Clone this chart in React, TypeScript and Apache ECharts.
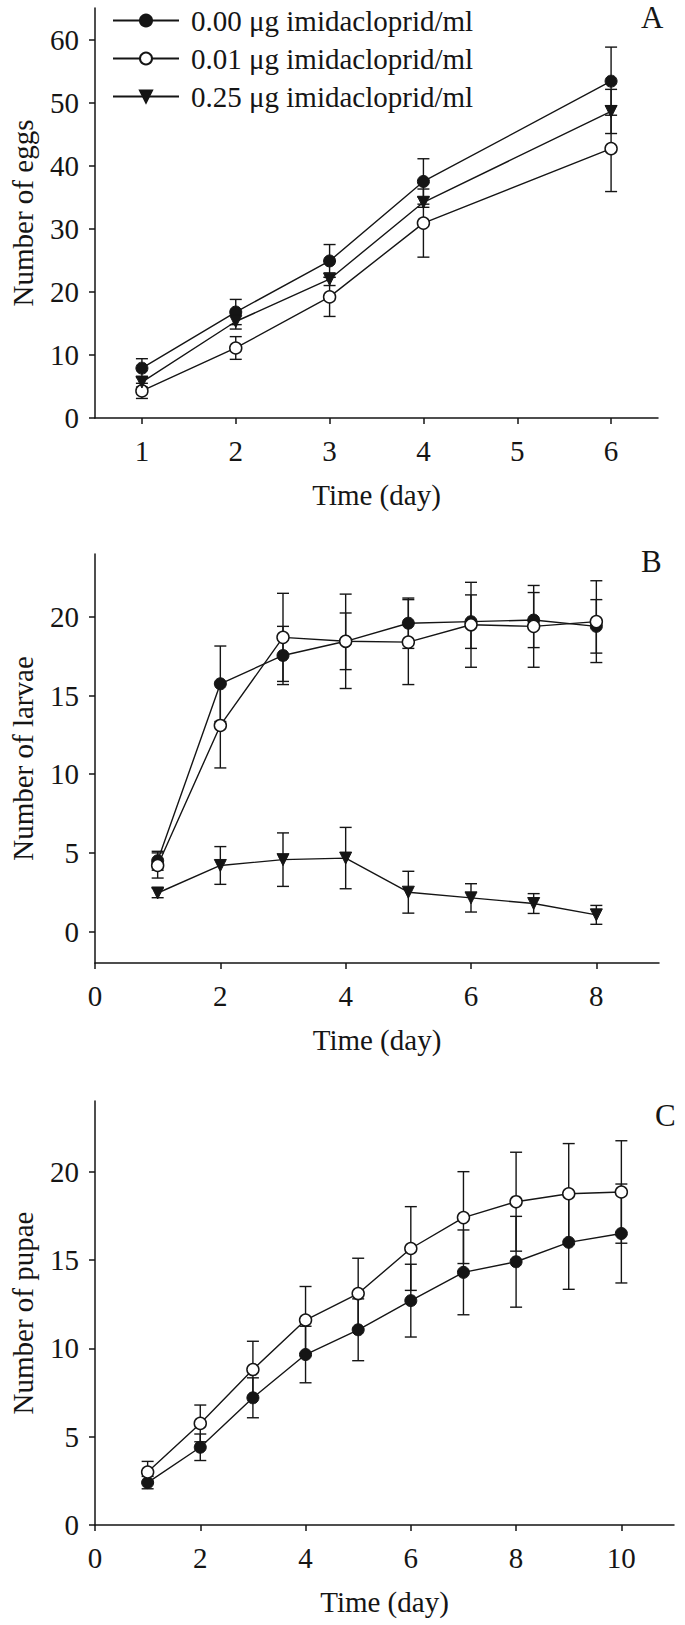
import React, { useEffect, useRef } from 'react';
import * as echarts from 'echarts';

const legendNames = ['0.00 μg imidacloprid/ml', '0.01 μg imidacloprid/ml', '0.25 μg imidacloprid/ml'];

// Panel A – eggs
const aCategories = ['1', '2', '3', '4', '5', '6'];
const aDays = ['1', '2', '3', '4', '6'];
const aCtrl = [7.9, 16.8, 24.9, 37.5, 53.4];
const aCtrlErr = [1.5, 2.0, 2.6, 3.6, 5.4];
const aLow = [4.3, 11.1, 19.2, 30.9, 42.7];
const aLowErr = [1.2, 1.8, 3.1, 5.4, 6.8];
const aHigh = [5.7, 15.3, 22.0, 34.2, 48.6];
const aHighErr = [0.8, 1.2, 1.0, 0.8, 3.5];
const aYTicks = [0, 10, 20, 30, 40, 50, 60];

// Panel B – larvae
const bDays = [1, 2, 3, 4, 5, 6, 7, 8];
const bCtrl = [4.5, 15.75, 17.55, 18.45, 19.6, 19.7, 19.8, 19.4];
const bCtrlErr = [0.6, 2.4, 1.85, 1.8, 1.6, 1.7, 1.75, 1.7];
const bLow = [4.2, 13.1, 18.7, 18.45, 18.4, 19.5, 19.4, 19.7];
const bLowErr = [0.8, 2.7, 2.8, 3.0, 2.7, 2.7, 2.6, 2.6];
const bHigh = [2.45, 4.2, 4.57, 4.67, 2.5, 2.14, 1.78, 1.06];
const bHighErr = [0.3, 1.2, 1.7, 1.95, 1.33, 0.9, 0.63, 0.6];
const bXTicks = [0, 2, 4, 6, 8];
const bYTicks = [0, 5, 10, 15, 20];

// Panel C – pupae
const cDays = [1, 2, 3, 4, 5, 6, 7, 8, 9, 10];
const cCtrl = [2.4, 4.4, 7.2, 9.65, 11.05, 12.7, 14.3, 14.9, 16.0, 16.5];
const cCtrlErr = [0.35, 0.75, 1.13, 1.6, 1.75, 2.06, 2.4, 2.57, 2.66, 2.8];
const cLow = [3.0, 5.75, 8.8, 11.6, 13.1, 15.65, 17.4, 18.3, 18.75, 18.85];
const cLowErr = [0.6, 1.04, 1.6, 1.9, 2.0, 2.37, 2.6, 2.8, 2.84, 2.9];
const cXTicks = [0, 2, 4, 6, 8, 10];
const cYTicks = [0, 5, 10, 15, 20];

const INK = '#151515';
const FONT = 'Liberation Serif';
const FS = 29;

const markerStyles = [
  { symbol: 'circle', symbolRotate: 0, itemStyle: { color: INK, borderColor: INK, borderWidth: 1 } },
  { symbol: 'circle', symbolRotate: 0, itemStyle: { color: '#ffffff', borderColor: INK, borderWidth: 1.5 } },
  { symbol: 'triangle', symbolRotate: 180, itemStyle: { color: INK, borderColor: INK, borderWidth: 1 } },
];

function lineSeries(idx: number, panel: number, xs: any[], ys: number[]) {
  const m = markerStyles[idx];
  return {
    type: 'line',
    name: legendNames[idx],
    xAxisIndex: panel,
    yAxisIndex: panel,
    data: xs.map((x, i) => [x, ys[i]]),
    symbol: m.symbol,
    symbolRotate: m.symbolRotate,
    symbolSize: 12,
    showAllSymbol: true,
    itemStyle: m.itemStyle,
    lineStyle: { color: INK, width: 1.4 },
    z: 3,
    silent: true,
  };
}

function errSeries(tag: string, panel: number, xs: any[], ys: number[], errs: number[]) {
  return {
    type: 'custom',
    name: tag,
    xAxisIndex: panel,
    yAxisIndex: panel,
    z: 2,
    silent: true,
    data: xs.map((x, i) => [x, ys[i] - errs[i], ys[i] + errs[i]]),
    renderItem: (_params: any, api: any) => {
      const x = api.value(0);
      const lo = api.coord([x, api.value(1)]);
      const hi = api.coord([x, api.value(2)]);
      const hw = 6;
      const style = { stroke: INK, lineWidth: 1.4 };
      return {
        type: 'group',
        children: [
          { type: 'line', shape: { x1: lo[0], y1: lo[1], x2: hi[0], y2: hi[1] }, style },
          { type: 'line', shape: { x1: lo[0] - hw, y1: lo[1], x2: lo[0] + hw, y2: lo[1] }, style },
          { type: 'line', shape: { x1: hi[0] - hw, y1: hi[1], x2: hi[0] + hw, y2: hi[1] }, style },
        ],
      };
    },
  };
}

const axisLineStyle = { show: true, onZero: false, lineStyle: { color: INK, width: 1.5 } };
const tickStyle = { show: true, inside: false, length: 6, lineStyle: { color: INK, width: 1.5 } };
const labelStyle = { color: INK, fontSize: FS, fontFamily: FONT };
const nameStyle = { color: INK, fontSize: FS, fontFamily: FONT };

function valueX(grid: number, min: number, max: number, ticks: number[]) {
  return {
    type: 'value',
    gridIndex: grid,
    min,
    max,
    axisLine: axisLineStyle,
    axisTick: { ...tickStyle, customValues: ticks },
    axisLabel: { ...labelStyle, margin: 18, customValues: ticks },
    splitLine: { show: false },
    name: 'Time (day)',
    nameLocation: 'middle',
    nameGap: 62,
    nameTextStyle: nameStyle,
  };
}

function valueY(grid: number, min: number, max: number, ticks: number[], name: string) {
  return {
    type: 'value',
    gridIndex: grid,
    min,
    max,
    axisLine: axisLineStyle,
    axisTick: { ...tickStyle, customValues: ticks },
    axisLabel: { ...labelStyle, margin: 16, customValues: ticks },
    splitLine: { show: false },
    name,
    nameLocation: 'middle',
    nameGap: 58,
    nameTextStyle: nameStyle,
  };
}

export default function App() {
  const ref = useRef<HTMLDivElement>(null);
  useEffect(() => {
    if (!ref.current) return;
    const chart = echarts.init(ref.current, undefined, { renderer: 'svg' });
    const option: any = {
      animation: false,
      backgroundColor: '#ffffff',
      textStyle: { fontFamily: FONT },
      grid: [
        { left: 89, top: 8, width: 569, height: 410 },
        { left: 89, top: 554, width: 570, height: 409 },
        { left: 91, top: 1101, width: 583, height: 424 },
      ],
      legend: {
        data: legendNames,
        orient: 'vertical',
        left: 107,
        top: 1,
        itemWidth: 66,
        itemHeight: 15,
        itemGap: 9,
        selectedMode: false,
        textStyle: { color: INK, fontSize: FS, fontFamily: FONT, lineHeight: 29, padding: [0, 0, 0, 7] },
      },
      xAxis: [
        {
          type: 'category',
          gridIndex: 0,
          data: aCategories,
          boundaryGap: true,
          axisLine: axisLineStyle,
          axisTick: { ...tickStyle, alignWithLabel: true, interval: 0 },
          axisLabel: { ...labelStyle, margin: 18, interval: 0 },
          splitLine: { show: false },
          name: 'Time (day)',
          nameLocation: 'middle',
          nameGap: 62,
          nameTextStyle: nameStyle,
        },
        valueX(1, 0, 9, bXTicks),
        valueX(2, 0, 11, cXTicks),
      ],
      yAxis: [
        valueY(0, 0, 65, aYTicks, 'Number of eggs'),
        valueY(1, -2, 24, bYTicks, 'Number of larvae'),
        valueY(2, 0, 24, cYTicks, 'Number of pupae'),
      ],
      graphic: [
        { type: 'text', left: 641, top: 2, style: { text: 'A', fontSize: 31, fontFamily: FONT, fill: INK } },
        { type: 'text', left: 641, top: 546, style: { text: 'B', fontSize: 31, fontFamily: FONT, fill: INK } },
        { type: 'text', left: 655, top: 1100, style: { text: 'C', fontSize: 31, fontFamily: FONT, fill: INK } },
      ],
      series: [
        errSeries('errA0', 0, aDays, aCtrl, aCtrlErr),
        errSeries('errA1', 0, aDays, aLow, aLowErr),
        errSeries('errA2', 0, aDays, aHigh, aHighErr),
        lineSeries(0, 0, aDays, aCtrl),
        lineSeries(1, 0, aDays, aLow),
        lineSeries(2, 0, aDays, aHigh),
        errSeries('errB0', 1, bDays, bCtrl, bCtrlErr),
        errSeries('errB1', 1, bDays, bLow, bLowErr),
        errSeries('errB2', 1, bDays, bHigh, bHighErr),
        lineSeries(0, 1, bDays, bCtrl),
        lineSeries(1, 1, bDays, bLow),
        lineSeries(2, 1, bDays, bHigh),
        errSeries('errC0', 2, cDays, cCtrl, cCtrlErr),
        errSeries('errC1', 2, cDays, cLow, cLowErr),
        lineSeries(0, 2, cDays, cCtrl),
        lineSeries(1, 2, cDays, cLow),
      ],
    };
    chart.setOption(option);
    return () => chart.dispose();
  }, []);
  return (
    <div
      ref={ref}
      style={{ position: 'absolute', left: 0, top: 0, width: 685, height: 1625, background: '#fff' }}
    />
  );
}
